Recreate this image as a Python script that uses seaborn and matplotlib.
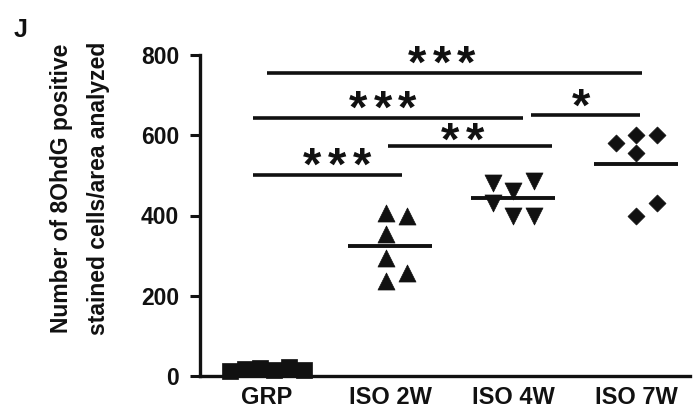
import numpy as np
import pandas as pd
import matplotlib
matplotlib.use("Agg")
import matplotlib.pyplot as plt
import seaborn as sns

# ---- data ----
groups = ["GRP", "ISO 2W", "ISO 4W", "ISO 7W"]
grp_vals = [13, 17, 20, 16, 22, 15]
iso2w_vals = [407, 400, 355, 295, 237, 257]
iso4w_vals = [480, 462, 487, 432, 400, 400]
iso7w_vals = [580, 600, 600, 555, 432, 400]
y_ticks = [0, 200, 400, 600, 800]
y_label = "Number of 8OhdG positive\nstained cells/area analyzed"
panel_letter = "J"

# significance brackets: (group from, group to, label)
sig_pairs = [
    (0, 3, "***"),
    (0, 2, "***"),
    (2, 3, "*"),
    (1, 2, "**"),
    (0, 1, "***"),
]

# ---- layout (horizontal scatter of points within a group) ----
jitter = {
    "GRP": [-0.30, -0.18, -0.06, 0.06, 0.18, 0.30],
    "ISO 2W": [-0.03, 0.14, -0.03, -0.03, -0.03, 0.14],
    "ISO 4W": [-0.16, 0.0, 0.17, -0.16, 0.0, 0.17],
    "ISO 7W": [-0.16, 0.0, 0.17, 0.0, 0.17, 0.0],
}
# bracket geometry: (y level, x start, x end, label x, label y)
sig_geom = [
    (756, 0.0, 3.05, 1.42, 793),
    (643, -0.11, 2.08, 0.94, 683),
    (651, 2.15, 3.03, 2.55, 688),
    (574, 0.98, 2.32, 1.59, 601),
    (501, -0.11, 1.10, 0.57, 541),
]

all_vals = [grp_vals, iso2w_vals, iso4w_vals, iso7w_vals]
rows = []
for g, vals in zip(groups, all_vals):
    for v, j in zip(vals, jitter[g]):
        rows.append({"group": g, "value": v, "jit": j})
df = pd.DataFrame(rows)
df["group"] = pd.Categorical(df["group"], categories=groups, ordered=True)
df["x"] = df["group"].cat.codes + df["jit"]

sns.set_theme(style="ticks")
plt.rcParams["font.family"] = ["Liberation Sans", "DejaVu Sans"]
plt.rcParams["font.weight"] = "bold"

fig = plt.figure(figsize=(6.93, 4.08), dpi=100)
ax = fig.add_axes([200 / 693, 32 / 408, 490 / 693, 321 / 408])

markers = {"GRP": "s", "ISO 2W": "^", "ISO 4W": "v", "ISO 7W": "D"}
sizes_map = {"GRP": 120, "ISO 2W": 150, "ISO 4W": 150, "ISO 7W": 75}
for g in groups:
    sub = df[df["group"] == g]
    sns.scatterplot(data=sub, x="x", y="value", marker=markers[g],
                    s=sizes_map[g], color="#111111", edgecolor="#111111",
                    linewidth=0.5, ax=ax, legend=False, clip_on=False, zorder=3)

# mean lines
means = df.groupby("group", observed=True)["value"].mean()
for i, g in enumerate(groups):
    ax.hlines(means[g], i - 0.34, i + 0.34, color="#111111", lw=2.8, zorder=2)

# significance brackets
fs_star = 34
for (a, b, lab), (yl, x0, x1, lx, ly) in zip(sig_pairs, sig_geom):
    ax.hlines(yl, x0, x1, color="#111111", lw=2.6, clip_on=False)
    n = len(lab)
    for k in range(n):
        xx = lx + (k - (n - 1) / 2) * 0.2
        ax.annotate("*", xy=(xx, ly), xytext=(0, -0.43 * fs_star),
                    textcoords="offset points", ha="center", va="baseline",
                    fontsize=fs_star, fontweight="bold", color="#111111",
                    annotation_clip=False)

ax.set_xlim(-0.545, 3.44)
ax.set_ylim(0, 800)
ax.set_xticks(range(len(groups)))
ax.set_xticklabels(groups, fontsize=17, fontweight="bold")
ax.set_yticks(y_ticks)
ax.set_yticklabels([str(t) for t in y_ticks], fontsize=16.5, fontweight="bold")
ax.tick_params(axis="x", length=0, pad=7, colors="#111111")
ax.tick_params(axis="y", length=7, width=2.2, pad=8, colors="#111111")
ax.set_xlabel("")
ax.set_ylabel(y_label, fontsize=16.5, fontweight="bold",
              linespacing=1.75, color="#111111")
ax.yaxis.set_label_coords(-0.184, 0.586)
for s in ["top", "right"]:
    ax.spines[s].set_visible(False)
for s in ["left", "bottom"]:
    ax.spines[s].set_linewidth(2.4)
    ax.spines[s].set_color("#111111")

fig.text(21 / 693, 1 - 30 / 408, panel_letter, fontsize=18, fontweight="bold",
         ha="center", va="center", color="#111111")

fig.savefig("out.png", dpi=100)
